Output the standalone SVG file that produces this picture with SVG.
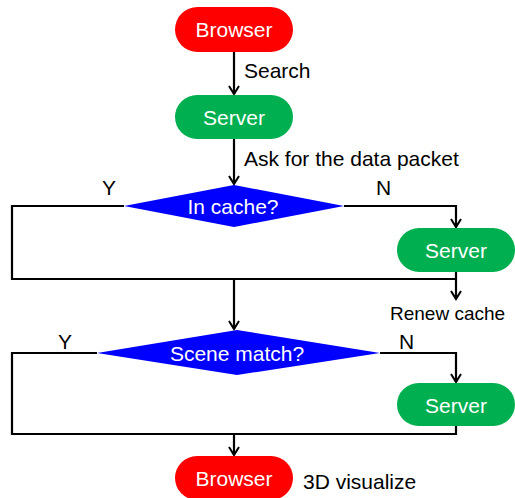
<svg xmlns="http://www.w3.org/2000/svg" width="515" height="498" viewBox="0 0 515 498">
  <style>
    text { font-family: "Liberation Sans", Arial, sans-serif; }
    .node { font-size: 21px; fill: #ffffff; text-anchor: middle; dominant-baseline: central; }
    .lbl { font-size: 21px; fill: #000000; }
    .lbl.edge { font-size: 19px; }
    .line { fill: none; stroke: #000000; stroke-width: 2.2; stroke-linejoin: miter; }
    .red { fill: #ff0000; }
    .green { fill: #00b050; }
    .blue { fill: #0000ff; }
  </style>
  <defs>
    <marker id="arrow" viewBox="0 0 12 12" refX="10" refY="6" markerWidth="12" markerHeight="12" markerUnits="userSpaceOnUse" orient="auto">
      <path d="M2,1 L10,6 L2,11" fill="none" stroke="#000" stroke-width="2"/>
    </marker>
  </defs>
  <rect width="515" height="498" fill="#ffffff"/>

  <!-- flow lines between the steps -->
  <g id="connectors">
    <path class="line" d="M234,52 V94" marker-end="url(#arrow)"/>
    <path class="line" d="M234,139 V184" marker-end="url(#arrow)"/>
    <path class="line" d="M124,206 H12 V279 H456"/>
    <path class="line" d="M344,206 H456 V227" marker-end="url(#arrow)"/>
    <path class="line" d="M456,272 V299" marker-end="url(#arrow)"/>
    <path class="line" d="M234,279 V329" marker-end="url(#arrow)"/>
    <path class="line" d="M97,353 H12 V434 H456 V426"/>
    <path class="line" d="M380,353 H456 V382" marker-end="url(#arrow)"/>
    <path class="line" d="M234,434 V455" marker-end="url(#arrow)"/>
  </g>

  <g id="browser-top">
    <rect class="red" x="175" y="7" width="118" height="45" rx="22.5"/>
    <text class="node" x="234" y="29.5">Browser</text>
  </g>
  <g id="server-main">
    <rect class="green" x="175" y="95" width="118" height="44" rx="22"/>
    <text class="node" x="234" y="117">Server</text>
  </g>
  <g id="in-cache">
    <polygon class="blue" points="124,206 234,185 344,206 234,227"/>
    <text class="node" x="233" y="206">In cache?</text>
  </g>
  <g id="server-cache">
    <rect class="green" x="397" y="228" width="118" height="44" rx="22"/>
    <text class="node" x="456" y="250">Server</text>
  </g>
  <g id="scene-match">
    <polygon class="blue" points="97,353 237,330 380,353 237,375"/>
    <text class="node" x="237" y="353">Scene match?</text>
  </g>
  <g id="server-scene">
    <rect class="green" x="397" y="383" width="118" height="43" rx="21.5"/>
    <text class="node" x="456" y="405">Server</text>
  </g>
  <g id="browser-bottom">
    <rect class="red" x="175" y="456" width="118" height="44" rx="22"/>
    <text class="node" x="234" y="478">Browser</text>
  </g>

  <!-- edge captions -->
  <g id="labels">
    <text class="lbl" x="244" y="78">Search</text>
    <text class="lbl" x="244" y="166">Ask for the data packet</text>
    <text class="lbl" x="102" y="195">Y</text>
    <text class="lbl" x="376" y="195">N</text>
    <text class="lbl edge" x="390" y="320">Renew cache</text>
    <text class="lbl" x="58" y="349">Y</text>
    <text class="lbl" x="399" y="349">N</text>
    <text class="lbl" x="303" y="489">3D visualize</text>
  </g>
</svg>
